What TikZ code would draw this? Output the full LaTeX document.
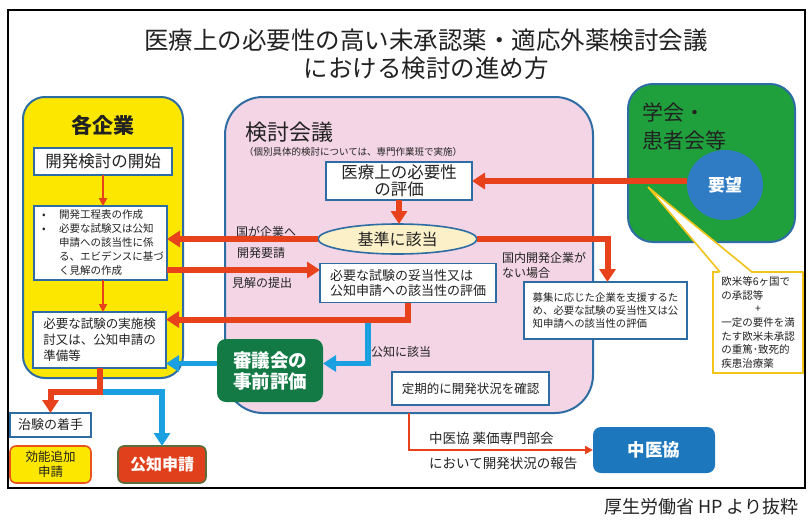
\documentclass[tikz,border=0pt]{standalone}
\usepackage{fontspec}
\setmainfont{Noto Sans CJK JP}
\usetikzlibrary{arrows.meta,shapes.geometric,calc}
\newcommand\fsz[2]{\fontsize{#1}{#2}\selectfont}
\definecolor{cred}{HTML}{E8421C}
\definecolor{cblue}{HTML}{1AA0E0}
\definecolor{bborder}{HTML}{2E6DA4}
\definecolor{cyellow}{HTML}{FCE700}
\definecolor{cpink}{HTML}{F3D5E5}
\definecolor{ccream}{HTML}{FBF0C8}
\definecolor{cshingi}{HTML}{137A45}
\definecolor{cgreen}{HTML}{1FA03D}
\definecolor{cyoubou}{HTML}{2F7BC4}
\definecolor{cchu}{HTML}{1C77BD}
\definecolor{cgold}{HTML}{F2C318}
\definecolor{ckouchi}{HTML}{E0401C}
\definecolor{ckouchiB}{HTML}{5A6E3C}
\definecolor{ckouno}{HTML}{E8541C}
\definecolor{ctext}{HTML}{222222}
\tikzset{
  container/.style={draw=bborder, line width=2pt, inner sep=0pt, outer sep=0pt},
  box/.style={draw=bborder, line width=1.6pt, fill=white, inner sep=0pt, outer sep=0pt, text=ctext},
  lbl/.style={inner sep=0pt, text=ctext, font=\fsz{12}{15}},
  lblb/.style={inner sep=0pt, text=ctext, font=\fsz{13.5}{16}},
  rarr/.style={draw=cred, line width=6pt, -{Triangle[length=13pt,width=16pt]}},
  barr/.style={draw=cblue, line width=5.5pt, -{Triangle[length=13pt,width=16pt]}},
  tarr/.style={draw=cred, line width=2pt, -{Triangle[length=8pt,width=8pt]}},
}
\begin{document}
\begin{tikzpicture}[x=1pt,y=-1pt]
\useasboundingbox (0,0) rectangle (810,522);
\fill[white] (0,0) rectangle (810,522);
\draw[line width=1.2pt] (8,10) rectangle (805,488);

% title and source
\node[align=center, text=ctext, font=\fsz{24.5}{28}] (title) at (426,54) {医療上の必要性の高い未承認薬・適応外薬検討会議\\における検討の進め方};
\node[anchor=east, text=ctext, font=\fsz{18}{20}] (src) at (802,507) {厚生労働省 HP より抜粋};

% containers
\node[container, fill=cyellow, minimum width=160pt, minimum height=281pt, rounded corners=22pt] (kigyo) at (103,237.5) {};
\node[text=ctext, font=\fsz{21}{24}\bfseries] (kigyoT) at (103,125) {各企業};

\node[container, fill=cpink, minimum width=368pt, minimum height=316pt, rounded corners=38pt] (kento) at (409,255) {};
\node[anchor=west, inner sep=0pt, text=ctext, font=\fsz{22}{24}] (kentoT) at (245,132) {検討会議};
\node[anchor=west, inner sep=0pt, text=ctext, font=\fsz{9.5}{11}] (kentoS) at (244,152) {（個別具体的検討については、専門作業班で実施）};

\node[container, fill=cgreen, minimum width=167pt, minimum height=158pt, rounded corners=25pt] (gakkai) at (711.5,163) {};
\node[anchor=west, align=left, inner sep=0pt, text=ctext, font=\fsz{21}{28}] (gakkaiT) at (642,126) {学会・\\患者会等};

% callout
\node[box, draw=cgold, minimum width=90pt, minimum height=101pt, font=\fsz{10.5}{13.6}, align=left] (note) at (758,322.5) {欧米等6ヶ国で\\の承認等\\\makebox[7em][c]{+}\\一定の要件を満\\たす欧米未承認\\の重篤･致死的\\疾患治療薬};
\coordinate (ptip) at (648,187);
\path (note.north west) ++(7,0) coordinate (pb1) ++(32,0) coordinate (pb2);
\fill[white] (ptip) -- ($(pb1)+(0,1.2)$) -- ($(pb2)+(0,1.2)$) -- cycle;
\draw[cgold, line width=1.6pt] (pb1) -- (ptip) -- (pb2);

\node[ellipse, fill=cyoubou, minimum width=76pt, minimum height=70pt, inner sep=0pt, text=white, font=\fsz{17}{20}\bfseries] (youbou) at (725,185) {要望};

% company side boxes
\node[box, minimum width=138pt, minimum height=27pt, font=\fsz{16.5}{18}] (start) at (103,161.5) {開発検討の開始};
\node[box, minimum width=133pt, minimum height=74pt, font=\fsz{10.5}{14}, align=left] (bullet) at (100.5,243) {\makebox[22pt][l]{\hspace{5pt}•}開発工程表の作成\\\makebox[22pt][l]{\hspace{5pt}•}必要な試験又は公知\\\hspace*{22pt}申請への該当性に係\\\hspace*{22pt}る、エビデンスに基づ\\\hspace*{22pt}く見解の作成};
\node[box, minimum width=133pt, minimum height=56pt, font=\fsz{12.5}{16}, align=left] (prep) at (99.5,340) {必要な試験の実施検\\討又は、公知申請の\\準備等};
\node[box, minimum width=81pt, minimum height=24pt, font=\fsz{13}{15}] (chiken) at (50.5,425) {治験の着手};
\node[box, fill=cyellow, draw=ckouno, rounded corners=6pt, minimum width=81pt, minimum height=37pt, font=\fsz{12.5}{15}, align=center] (kouno) at (50.5,464.5) {効能追加\\申請};
\node[box, fill=ckouchi, draw=ckouchiB, rounded corners=6pt, minimum width=88pt, minimum height=37pt, text=white, font=\fsz{16}{18}\bfseries] (kouchi) at (162,464.5) {公知申請};

% council boxes
\node[box, minimum width=146pt, minimum height=38pt, font=\fsz{16.5}{17}, align=center] (hitsuyo) at (399,181) {医療上の必要性\\の評価};
\node[ellipse, draw=bborder, line width=1.6pt, fill=ccream, minimum width=159pt, minimum height=30pt, inner sep=0pt, outer sep=0pt, text=ctext, font=\fsz{16}{18}] (kijun) at (397.5,239) {基準に該当};
\node[box, minimum width=176pt, minimum height=39pt, font=\fsz{13}{15}, align=left] (datou) at (408,283) {必要な試験の妥当性又は\\公知申請への該当性の評価};
\node[box, minimum width=163pt, minimum height=57pt, font=\fsz{10.4}{13}, align=left] (boshu) at (605.5,310.5) {募集に応じた企業を支援するた\\め、必要な試験の妥当性又は公\\知申請への該当性の評価};
\node[box, draw=none, fill=cshingi, rounded corners=9pt, minimum width=106pt, minimum height=63pt, text=white, font=\fsz{18.5}{21}\bfseries, align=center] (shingi) at (270,370.5) {審議会の\\事前評価};
\node[box, minimum width=157pt, minimum height=33pt, font=\fsz{12.5}{15}] (teiki) at (470.5,388.5) {定期的に開発状況を確認};
\node[box, draw=none, fill=cchu, rounded corners=8pt, minimum width=122pt, minimum height=46pt, text=white, font=\fsz{17.5}{20}\bfseries] (chuikyo) at (654,450) {中医協};

% labels
\node[lbl, anchor=west] (l1) at (236,232) {国が企業へ};
\node[lbl, anchor=west] (l2) at (237,253) {開発要請};
\node[lbl, anchor=west] (l3) at (232,283) {見解の提出};
\node[lbl, anchor=west] (l4) at (371,352) {公知に該当};
\node[lbl, anchor=west, align=left] (l5) at (502,265.5) {国内開発企業が\\ない場合};
\node[lblb, anchor=west] (l6) at (429,438) {中医協 薬価専門部会};
\node[lblb, anchor=west] (l7) at (429,463) {において開発状況の報告};

% connectors
\draw[tarr] (start.south) -- (start.south |- bullet.north);
\draw[tarr] (bullet.south -| start.south) -- (start.south |- prep.north);
\draw[rarr] (youbou.west |- hitsuyo.east) -- (hitsuyo.east);
\draw[rarr] (hitsuyo.south) -- (hitsuyo.south |- kijun.north);
\draw[rarr] (kijun.west) -- (kijun.west -| bullet.east);
\draw[rarr] ([yshift=-27pt]bullet.east) -- ([yshift=-27pt]bullet.east -| datou.west);
\draw[barr] ([xshift=-40pt,yshift=-17pt]datou.south) |- ([yshift=7pt]shingi.east);
\draw[rarr] (datou.south) -- ++(0,17) coordinate (rturn) -- (rturn -| prep.east);
\draw[barr] ([yshift=7pt]shingi.west) -- ([yshift=7pt]shingi.west -| prep.east);
\draw[rarr] (kijun.east) -| ([xshift=2pt]boshu.north);
\draw[barr] ([yshift=-24pt]prep.south) -| (kouchi.north);
\draw[rarr] (prep.south) -- ++(0,24) -| (chiken.north);
\draw[tarr] (kento.south) |- (chuikyo.west);
\end{tikzpicture}
\end{document}
